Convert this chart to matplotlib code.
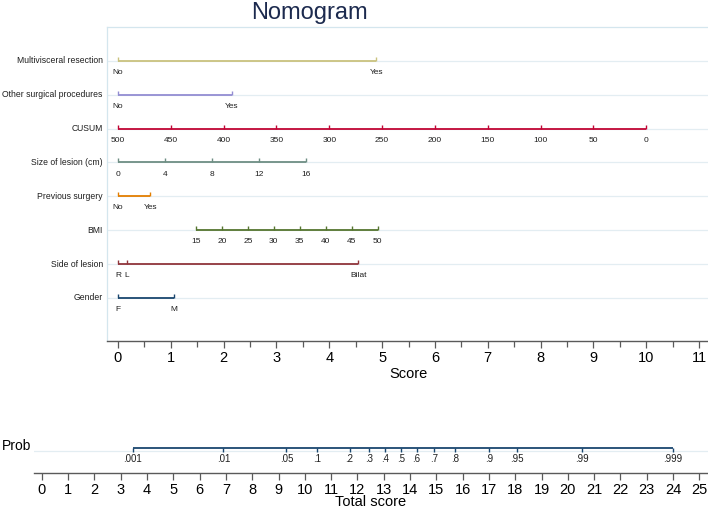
import matplotlib
matplotlib.use("Agg")
import matplotlib.pyplot as plt
import matplotlib.transforms as mtransforms

plt.rcParams['font.family'] = ['Liberation Sans', 'DejaVu Sans']

# variables, top to bottom
var_names = ['Multivisceral resection', 'Other surgical procedures', 'CUSUM',
             'Size of lesion (cm)', 'Previous surgery', 'BMI', 'Side of lesion', 'Gender']

multi_labels = ['No', 'Yes']
multi_points = [0, 4.89]
other_labels = ['No', 'Yes']
other_points = [0, 2.16]
cusum_labels = ['500', '450', '400', '350', '300', '250', '200', '150', '100', '50', '0']
cusum_points = [0, 1, 2, 3, 4, 5, 6, 7, 8, 9, 10]
size_labels = ['0', '4', '8', '12', '16']
size_points = [0, 0.89, 1.78, 2.67, 3.56]
prev_labels = ['No', 'Yes']
prev_points = [0, 0.61]
bmi_labels = ['15', '20', '25', '30', '35', '40', '45', '50']
bmi_points = [1.48, 1.97, 2.46, 2.95, 3.44, 3.93, 4.43, 4.92]
side_labels = ['R', 'L', 'Bilat']
side_points = [0, 0.17, 4.55]
gender_labels = ['F', 'M']
gender_points = [0, 1.06]

var_labels = [multi_labels, other_labels, cusum_labels, size_labels,
              prev_labels, bmi_labels, side_labels, gender_labels]
var_points = [multi_points, other_points, cusum_points, size_points,
              prev_points, bmi_points, side_points, gender_points]
# Stata s2color palette, last variable gets p1
var_colors = ['#cac27e', '#938dd2', '#c10534', '#6e8e84',
              '#e37e00', '#55752f', '#90353b', '#1a476f']

score_ticks = list(range(0, 12))

prob_labels = ['.001', '.01', '.05', '.1', '.2', '.3', '.4', '.5', '.6', '.7',
               '.8', '.9', '.95', '.99', '.999']
prob_points = [3.45, 6.9, 9.3, 10.45, 11.7, 12.45, 13.05, 13.65, 14.25, 14.9,
               15.7, 17.0, 18.05, 20.55, 24.0]
total_ticks = list(range(0, 26))

W, H = 708, 508
grid_col = '#e3edf2'
axis_col = '#5a5a5a'
txt_col = '#1e1e1e'

fig = plt.figure(figsize=(W / 100, H / 100), dpi=100)
fig.patch.set_facecolor('white')

fig.text(309 / W, 1 - 13 / H, 'Nomogram', fontsize=17, ha='center', va='center',
         color='#1c2a4e')

# ---- top panel: points per variable
x0, x1 = -0.208, 11.17
ax = fig.add_axes([107 / W, 1 - 341 / H, 1 - 107 / W, (341 - 27) / H])
ax.set_xlim(x0, x1)
ax.set_ylim(8.27, -1.0)
for s in ['left', 'top']:
    ax.spines[s].set_color('#d4e6ee')
    ax.spines[s].set_linewidth(0.9)
ax.spines['right'].set_visible(False)
ax.spines['bottom'].set_color(axis_col)
ax.spines['bottom'].set_linewidth(1.0)
ax.set_yticks([])
ax.set_xticks(score_ticks)
ax.set_xticks([t + 0.5 for t in score_ticks[:-1]], minor=True)
ax.tick_params(axis='x', which='major', length=5, width=0.9, color=axis_col,
               labelsize=10.5, labelcolor='black', pad=2)
ax.tick_params(axis='x', which='minor', length=4, width=0.9, color=axis_col)
ax.set_xlabel('Score', fontsize=10.5, color='black')
ax.xaxis.set_label_coords((5.5 - x0) / (x1 - x0), -0.083)
ax.xaxis.label.set_va('top')

lbl_tr = mtransforms.blended_transform_factory(ax.transAxes, ax.transData)
for i, (name, labs, pts, col) in enumerate(zip(var_names, var_labels, var_points, var_colors)):
    ax.axhline(i, color=grid_col, lw=0.9, zorder=1)
    ax.text(-0.007, i, name, transform=lbl_tr, ha='right', va='center',
            fontsize=6.2, color=txt_col, clip_on=False)
    ax.plot([min(pts), max(pts)], [i, i], color=col, lw=1.3, zorder=3,
            solid_capstyle='butt')
    ax.vlines(pts, i - 0.12, i, color=col, lw=1.0, zorder=3)
    for p, lab in zip(pts, labs):
        ax.text(p, i + 0.34, lab, ha='center', va='center', fontsize=6,
                color=txt_col)

# ---- bottom panel: total points and probability
t0, t1 = -0.30, 25.33
ax2 = fig.add_axes([34 / W, 1 - 473 / H, 1 - 34 / W, (473 - 420) / H])
ax2.set_xlim(t0, t1)
ax2.set_ylim(0.83, -1.17)
for s in ['left', 'top', 'right']:
    ax2.spines[s].set_visible(False)
ax2.spines['bottom'].set_color(axis_col)
ax2.spines['bottom'].set_linewidth(1.0)
ax2.set_yticks([])
ax2.set_xticks(total_ticks)
ax2.tick_params(axis='x', which='major', length=5, width=0.9, color=axis_col,
                labelsize=10.5, labelcolor='black', pad=2)
ax2.set_xlabel('Total score', fontsize=10.5, color='black')
ax2.xaxis.set_label_coords((12.5 - t0) / (t1 - t0), -0.42)
ax2.xaxis.label.set_va('top')

ax2.axhline(0, color=grid_col, lw=0.9, zorder=1)
ax2.plot([min(prob_points), max(prob_points)], [-0.11, -0.11], color='#1a476f',
         lw=1.3, zorder=3, solid_capstyle='butt')
ax2.vlines(prob_points, -0.11, 0.04, color='#1a476f', lw=1.0, zorder=3)
for p, lab in zip(prob_points, prob_labels):
    ax2.text(p, 0.32, lab, ha='center', va='center', fontsize=7, color=txt_col)

fig.text(31 / W, 1 - 446 / H, 'Prob', fontsize=10, ha='right', va='center',
         color='black')

fig.savefig('out.png', dpi=100, facecolor='white')
